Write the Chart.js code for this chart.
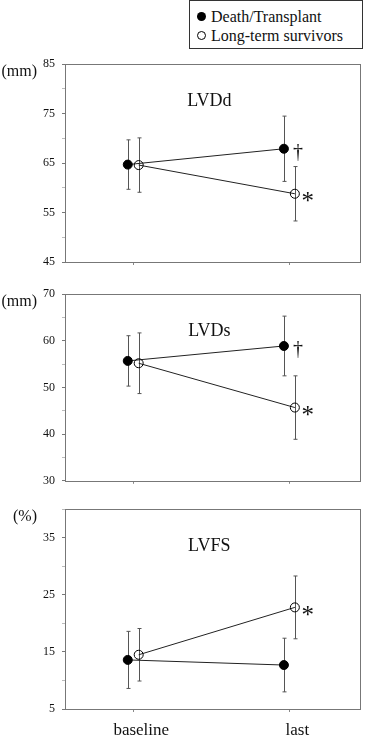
<!DOCTYPE html>
<html>
<head>
<meta charset="utf-8">
<script src="https://cdn.jsdelivr.net/npm/chart.js@4.4.1/dist/chart.umd.min.js"></script>
<style>
  body { margin: 0; background: #fff; width: 365px; height: 741px; position: relative; overflow: hidden;
         font-family: 'Liberation Serif', 'Times New Roman', serif; }
  .panel { position: absolute; left: 0; width: 365px; }
  #legend { position: absolute; left: 189px; top: 0; width: 172px; height: 47px; border: 1px solid #333; background: #fff; }
  #legend .row { position: absolute; left: 7px; height: 18px; font-size: 16px; line-height: 18px; color: #111; white-space: nowrap; }
  #legend .dot { display: inline-block; width: 9px; height: 9px; border-radius: 50%; box-sizing: border-box;
                 margin-right: 5px; vertical-align: 1px; }
</style>
</head>
<body>

<div id="legend">
  <div class="row" style="top:7px"><span class="dot" style="background:#000"></span>Death/Transplant</div>
  <div class="row" style="top:26px"><span class="dot" style="border:1px solid #000"></span>Long-term survivors</div>
</div>

<div class="panel" style="top:50px"><canvas id="lvdd-chart" width="365" height="230"></canvas></div>
<div class="panel" style="top:280px"><canvas id="lvds-chart" width="365" height="215"></canvas></div>
<div class="panel" style="top:495px"><canvas id="lvfs-chart" width="365" height="246"></canvas></div>

<script>
// ---- data (mean ± SD) ----
const categories = ['baseline', 'last'];
const seriesNames = ['Death/Transplant', 'Long-term survivors'];

const lvddDeath   = [64.7, 67.9];
const lvddDeathSD = [5.0, 6.6];
const lvddSurv    = [64.6, 58.8];
const lvddSurvSD  = [5.5, 5.5];
const lvddTicks   = [45, 55, 65, 75, 85];

const lvdsDeath   = [55.7, 58.9];
const lvdsDeathSD = [5.4, 6.4];
const lvdsSurv    = [55.2, 45.7];
const lvdsSurvSD  = [6.5, 6.8];
const lvdsTicks   = [30, 40, 50, 60, 70];

const lvfsDeath   = [13.6, 12.7];
const lvfsDeathSD = [5.0, 4.7];
const lvfsSurv    = [14.5, 22.8];
const lvfsSurvSD  = [4.6, 5.5];
const lvfsTicks   = [5, 15, 25, 35];

// significance marks: [series name, category index, symbol]
const lvddMarks = [['Death/Transplant', 1, '†'], ['Long-term survivors', 1, '*']];
const lvdsMarks = [['Death/Transplant', 1, '†'], ['Long-term survivors', 1, '*']];
const lvfsMarks = [['Long-term survivors', 1, '*']];

const SERIF = "'Liberation Serif', 'Times New Roman', serif";
const X_OFFSET = 0.035;   // side-by-side shift of the two groups

// Error bars with small caps, drawn under the markers
const errorBarPlugin = {
  id: 'errorBars',
  beforeDatasetsDraw(chart) {
    const ctx = chart.ctx;
    const y = chart.scales.y;
    ctx.save();
    ctx.lineWidth = 1;
    chart.data.datasets.forEach((ds, di) => {
      const meta = chart.getDatasetMeta(di);
      ds.data.forEach((p, i) => {
        const px = Math.round(meta.data[i].x) + 0.5;
        const top = y.getPixelForValue(p.y + ds.sd[i]);
        const bot = y.getPixelForValue(p.y - ds.sd[i]);
        ctx.strokeStyle = '#555';
        ctx.beginPath();
        ctx.moveTo(px, top); ctx.lineTo(px, bot);
        ctx.moveTo(px - 2, top); ctx.lineTo(px + 2, top);
        ctx.moveTo(px - 2, bot); ctx.lineTo(px + 2, bot);
        ctx.stroke();
      });
    });
    ctx.restore();
  }
};

// Frame, panel title, unit label and significance marks
const panelTextPlugin = {
  id: 'panelText',
  afterDraw(chart, args, opts) {
    const ctx = chart.ctx;
    const a = chart.chartArea;
    ctx.save();
    ctx.strokeStyle = '#777';
    ctx.lineWidth = 1;
    ctx.strokeRect(Math.round(a.left) + 0.5, Math.round(a.top) + 0.5,
                   Math.round(a.right - a.left), Math.round(a.bottom - a.top));

    ctx.fillStyle = '#111';
    ctx.font = '18px ' + SERIF;
    ctx.textAlign = 'center';
    ctx.textBaseline = 'middle';
    ctx.fillText(opts.title, a.left + (a.right - a.left) * 0.49, a.top + 37);

    ctx.font = '16px ' + SERIF;
    ctx.textAlign = 'right';
    ctx.fillText(opts.unit, 37, a.top + 8);

    ctx.textAlign = 'center';
    opts.marks.forEach(([name, i, sym]) => {
      const di = chart.data.datasets.findIndex(d => d.label === name);
      const el = chart.getDatasetMeta(di).data[i];
      if (sym === '*') {
        ctx.font = '25px ' + SERIF;
        ctx.fillText(sym, el.x + 13, el.y + 9);
      } else {
        ctx.font = '20px ' + SERIF;
        ctx.fillText(sym, el.x + 14, el.y + 4);
      }
    });
    ctx.restore();
  }
};

function makeDataset(label, vals, sd, filled, off) {
  return {
    label,
    data: vals.map((v, i) => ({ x: i + 1 + off, y: v })),
    sd,
    showLine: true,
    borderColor: '#222',
    borderWidth: 1,
    pointRadius: 4.5,
    pointHoverRadius: 4.5,
    pointBorderWidth: 1,
    pointBorderColor: '#000',
    pointBackgroundColor: filled ? '#000' : 'rgba(255,255,255,0)'
  };
}

function makePanel(canvasId, cfg) {
  return new Chart(document.getElementById(canvasId), {
    type: 'scatter',
    data: {
      datasets: [
        makeDataset(seriesNames[1], cfg.surv, cfg.survSD, false, X_OFFSET),
        makeDataset(seriesNames[0], cfg.death, cfg.deathSD, true, -X_OFFSET)
      ]
    },
    options: {
      responsive: false,
      animation: false,
      layout: { padding: { top: cfg.padTop, bottom: cfg.padBottom, left: 0, right: 2 } },
      plugins: {
        legend: { display: false },
        tooltip: { enabled: false },
        panelText: { title: cfg.title, unit: cfg.unit, marks: cfg.marks }
      },
      scales: {
        x: {
          type: 'linear',
          min: 0.563,
          max: 2.449,
          afterBuildTicks: s => { s.ticks = categories.map((c, i) => ({ value: i + 1 })); },
          afterFit: s => { s.height = cfg.showLabels ? 32 : 0; },
          grid: { drawOnChartArea: false, drawTicks: true, tickLength: 3, color: '#888' },
          border: { display: false },
          ticks: {
            display: cfg.showLabels,
            padding: 8,
            labelOffset: 8,
            color: '#111',
            font: { family: SERIF, size: 17 },
            callback: v => categories[v - 1]
          }
        },
        y: {
          min: cfg.min,
          max: cfg.max,
          afterFit: s => { s.width = 65; },
          grid: {
            drawOnChartArea: false, drawTicks: true, tickLength: 3,
            color: c => (c.tick && cfg.ticks.includes(c.tick.value)) ? '#777' : '#bbb'
          },
          border: { display: false },
          ticks: {
            stepSize: 5,
            padding: 7,
            color: '#111',
            font: { family: SERIF, size: 12 },
            callback: v => cfg.ticks.includes(v) ? String(v) : ''
          }
        }
      }
    },
    plugins: [errorBarPlugin, panelTextPlugin]
  });
}

makePanel('lvdd-chart', {
  title: 'LVDd', unit: '(mm)', min: 45, max: 85, ticks: lvddTicks, marks: lvddMarks,
  death: lvddDeath, deathSD: lvddDeathSD, surv: lvddSurv, survSD: lvddSurvSD,
  padTop: 11, padBottom: 18, showLabels: false
});

makePanel('lvds-chart', {
  title: 'LVDs', unit: '(mm)', min: 30, max: 70, ticks: lvdsTicks, marks: lvdsMarks,
  death: lvdsDeath, deathSD: lvdsDeathSD, surv: lvdsSurv, survSD: lvdsSurvSD,
  padTop: 9, padBottom: 7, showLabels: false
});

makePanel('lvfs-chart', {
  title: 'LVFS', unit: '(%)', min: 5, max: 40, ticks: lvfsTicks, marks: lvfsMarks,
  death: lvfsDeath, deathSD: lvfsDeathSD, surv: lvfsSurv, survSD: lvfsSurvSD,
  padTop: 14, padBottom: 0, showLabels: true
});
</script>
</body>
</html>
